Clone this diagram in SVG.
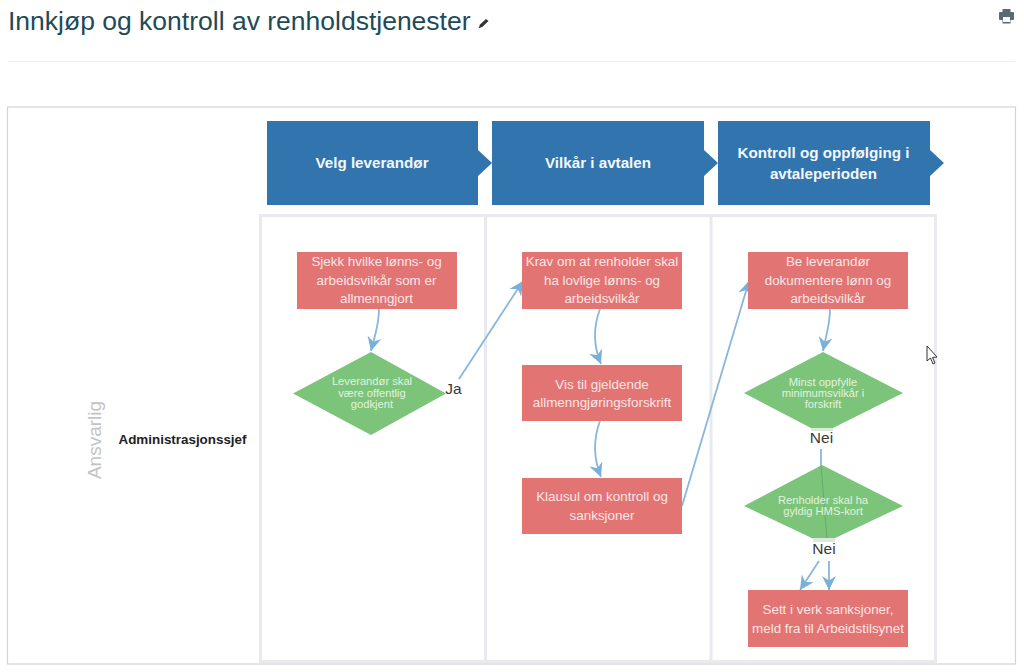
<svg xmlns="http://www.w3.org/2000/svg" width="1024" height="672" viewBox="0 0 1024 672">
<style>
text{font-family:"Liberation Sans",Arial,sans-serif}
.hdr{fill:#3274ae}
.hdrt{fill:#f4f8fb;font-size:15.2px;font-weight:bold;text-anchor:middle}
.act{fill:#e27473}
.actt{fill:#fbe6e6;font-size:13.4px;text-anchor:middle}
.dec{fill:#7cc47a}
.dect{fill:#e0f3de;font-size:11.2px;text-anchor:middle}
.lane{fill:none;stroke:#e8eaf0;stroke-width:3}
.con{fill:none;stroke:#8ab6da;stroke-width:1.8;marker-end:url(#ah)}
.lbl{fill:#3a3a3a;font-size:15.5px;text-anchor:middle}
</style>
<defs>
<marker id="ah" markerUnits="userSpaceOnUse" markerWidth="18" markerHeight="18" refX="15" refY="9" orient="auto">
<path d="M1 2L15 9L1 16L5.500 9Z" fill="#78b0da"/>
</marker>
</defs>
<rect width="1024" height="672" fill="#fff"/>
<g id="title">
<text x="8" y="30" font-size="26.500" fill="#1f4a57">Innkjøp og kontroll av renholdstjenester</text>
<path d="M478.500 28.500L480 24.500L486 19L488.500 21L482.500 26.800Z" fill="#333"/>
<path d="M1000 12h2.500v-3h8v3h2.500q1 0 1 1v6q0 1-1 1h-2.500v3.500h-8V20h-2.500q-1 0-1-1v-6q0-1 1-1Z" fill="#5a6a70"/>
<rect x="1003" y="17" width="7" height="5" fill="#fff"/>
<line x1="8" y1="61.500" x2="1015" y2="61.500" stroke="#eeeeee"/>
</g>
<rect id="frame" x="7.500" y="107" width="1008" height="557" fill="#fff" stroke="#d4d4d4" stroke-width="1.200"/>
<g id="lanes">
<rect class="lane" x="260.500" y="215.500" width="675" height="446"/>
<line class="lane" x1="485.500" y1="215" x2="485.500" y2="662"/>
<line class="lane" x1="711" y1="215" x2="711" y2="662"/>
</g>
<g id="lane-labels">
<text x="0" y="0" transform="translate(101 440) rotate(-90)" font-size="19" fill="#c4c4c4" text-anchor="middle">Ansvarlig</text>
<text x="182.500" y="444" font-size="13.400" font-weight="bold" fill="#222" text-anchor="middle">Administrasjonssjef</text>
</g>
<g id="phase-1">
<path class="hdr" d="M267 121H478V150L492 163L478 176V205H267Z"/>
<text class="hdrt" x="372" y="168">Velg leverandør</text>
</g>
<g id="phase-2">
<path class="hdr" d="M492 121H704V150L718 163L704 176V205H492Z"/>
<text class="hdrt" x="598" y="168">Vilkår i avtalen</text>
</g>
<g id="phase-3">
<path class="hdr" d="M718 121H930V150L944 163L930 176V205H718Z"/>
<text class="hdrt" x="823.500" y="158">Kontroll og oppfølging i</text>
<text class="hdrt" x="823.500" y="179">avtaleperioden</text>
</g>
<g id="connectors">
<path class="con" d="M379 309C379 325 375 335 371 351"/>
<path class="con" d="M459 379L523 281"/>
<path class="con" d="M600 309C594 325 593 345 601 364"/>
<path class="con" d="M600 421C594 437 593 457 601 477"/>
<path class="con" d="M682 506L749 281"/>
<path class="con" d="M830 309C830 325 826 335 823 351"/>
<path d="M821 449V465" fill="none" stroke="#8ab6da" stroke-width="1.800"/>
<path class="con" d="M819 561L800 590"/>
<path class="con" d="M829 561V590"/>
</g>
<g id="n1">
<rect class="act" x="297" y="252" width="160" height="57"/>
<text class="actt" x="376.500" y="266">Sjekk hvilke lønns- og</text>
<text class="actt" x="376.500" y="285">arbeidsvilkår som er</text>
<text class="actt" x="376.500" y="303">allmenngjort</text>
</g>
<g id="d1">
<path class="dec" d="M293 393.500L371 352L446 393.500L371 435Z"/>
<text class="dect" x="372" y="385">Leverandør skal</text>
<text class="dect" x="372" y="397">være offentlig</text>
<text class="dect" x="372" y="408">godkjent</text>
</g>
<text class="lbl" x="453.500" y="394">Ja</text>
<g id="n2">
<rect class="act" x="522" y="252" width="160" height="57"/>
<text class="actt" x="602" y="266">Krav om at renholder skal</text>
<text class="actt" x="602" y="285">ha lovlige lønns- og</text>
<text class="actt" x="602" y="303">arbeidsvilkår</text>
</g>
<g id="n3">
<rect class="act" x="522" y="365" width="160" height="56"/>
<text class="actt" x="602" y="389">Vis til gjeldende</text>
<text class="actt" x="602" y="407">allmenngjøringsforskrift</text>
</g>
<g id="n4">
<rect class="act" x="522" y="478" width="160" height="56"/>
<text class="actt" x="602" y="501">Klausul om kontroll og</text>
<text class="actt" x="602" y="520">sanksjoner</text>
</g>
<g id="n5">
<rect class="act" x="748" y="252" width="160" height="57"/>
<text class="actt" x="828" y="266">Be leverandør</text>
<text class="actt" x="828" y="285">dokumentere lønn og</text>
<text class="actt" x="828" y="303">arbeidsvilkår</text>
</g>
<g id="d2">
<path class="dec" d="M744 393L823 352L903 393L833 428H811Z"/>
<rect x="811" y="428" width="22" height="3" fill="#dcebd9"/>
<text class="dect" x="823" y="386">Minst oppfylle</text>
<text class="dect" x="823" y="397">minimumsvilkår i</text>
<text class="dect" x="823" y="408">forskrift</text>
</g>
<text class="lbl" x="821.500" y="443">Nei</text>
<g id="d3">
<path class="dec" d="M744 506L822 465L903 506L833 539H814Z"/>
<line x1="821" y1="465" x2="827" y2="539" stroke="#5fae70" stroke-width="1"/>
<rect x="813" y="538" width="22" height="4" fill="#dcebd9"/>
<text class="dect" x="823" y="504">Renholder skal ha</text>
<text class="dect" x="823" y="515">gyldig HMS-kort</text>
</g>
<text class="lbl" x="824" y="554">Nei</text>
<g id="n6">
<rect class="act" x="748" y="590" width="160" height="57"/>
<text class="actt" x="828" y="614">Sett i verk sanksjoner,</text>
<text class="actt" x="828" y="633">meld fra til Arbeidstilsynet</text>
</g>
<path id="cursor" d="M927 346V361L930.500 358L933 364L935 363L932.500 357.500L937 357Z" fill="#fff" stroke="#333" stroke-width="1"/>
</svg>
